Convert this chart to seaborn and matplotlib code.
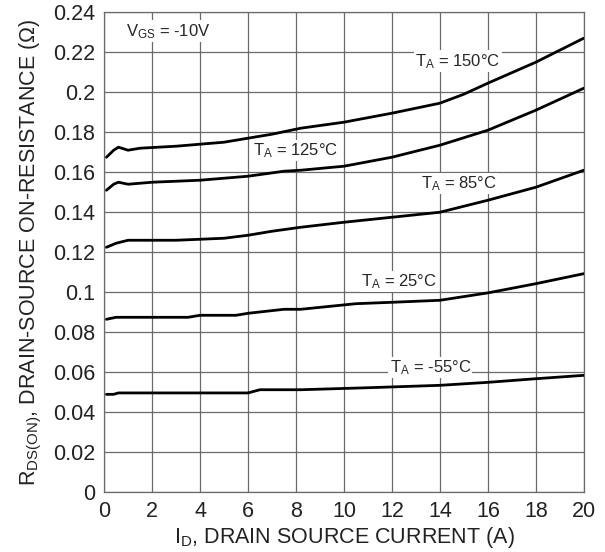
import matplotlib
matplotlib.use("Agg")
import matplotlib.pyplot as plt
import matplotlib.ticker as mticker
import seaborn as sns
import pandas as pd

# drain current (A) and on-resistance (ohm)
i_150 = [0.1, 0.4, 0.6, 1.0, 1.5, 3.0, 5.0, 7.0, 8.2, 10.0, 12.0, 14.0, 15.0, 16.0, 18.0, 20.0]
r_150 = [0.1675, 0.171, 0.1725, 0.171, 0.172, 0.173, 0.175, 0.179, 0.182, 0.185, 0.1895, 0.1945, 0.199, 0.2045, 0.215, 0.227]

i_125 = [0.1, 0.4, 0.6, 1.0, 2.0, 4.0, 6.0, 7.5, 8.2, 10.0, 12.0, 14.0, 16.0, 18.0, 20.0]
r_125 = [0.151, 0.154, 0.155, 0.154, 0.155, 0.156, 0.158, 0.1605, 0.161, 0.163, 0.1675, 0.1735, 0.181, 0.191, 0.202]

i_85 = [0.1, 0.5, 1.0, 3.0, 5.0, 6.0, 7.0, 8.2, 10.0, 12.0, 14.0, 16.0, 18.0, 20.0]
r_85 = [0.1225, 0.1245, 0.126, 0.126, 0.127, 0.1285, 0.1305, 0.1325, 0.135, 0.1375, 0.14, 0.146, 0.1525, 0.161]

i_25 = [0.1, 0.5, 3.5, 4.0, 5.5, 6.0, 7.5, 8.2, 10.5, 12.0, 14.0, 16.0, 18.0, 20.0]
r_25 = [0.0865, 0.0875, 0.0875, 0.0885, 0.0885, 0.0895, 0.0915, 0.0915, 0.0943, 0.095, 0.096, 0.0997, 0.1043, 0.1093]

i_m55 = [0.1, 0.4, 0.6, 6.0, 6.5, 8.2, 11.0, 14.0, 16.0, 18.0, 20.0]
r_m55 = [0.049, 0.049, 0.0497, 0.0497, 0.0513, 0.0513, 0.0523, 0.0535, 0.055, 0.0568, 0.0585]

temps = ["150", "125", "85", "25", "-55"]
label_text = [r"T$_A$ = 150°C", r"T$_A$ = 125°C", r"T$_A$ = 85°C", r"T$_A$ = 25°C", r"T$_A$ = -55°C"]
label_pos = [(14.75, 0.2155), (8.0, 0.171), (14.8, 0.1545), (12.3, 0.1055), (13.6, 0.0625)]

frames = []
for t, xs, ys in zip(temps, [i_150, i_125, i_85, i_25, i_m55],
                     [r_150, r_125, r_85, r_25, r_m55]):
    frames.append(pd.DataFrame({"current": xs, "rds": ys, "temp": t}))
df = pd.concat(frames, ignore_index=True)

sns.set_style("whitegrid")
plt.rcParams["font.family"] = ["Liberation Sans", "DejaVu Sans"]
plt.rcParams["mathtext.default"] = "regular"

fig, ax = plt.subplots(figsize=(6.05, 5.52), dpi=100)
fig.subplots_adjust(left=0.172, right=0.965, top=0.978, bottom=0.108)

sns.lineplot(data=df, x="current", y="rds", hue="temp", units="temp",
             estimator=None, sort=False, palette=["black"] * 5,
             linewidth=2.0, legend=False, ax=ax, zorder=3)

for txt, (x, y) in zip(label_text, label_pos):
    ax.text(x, y, txt, ha="center", va="center", fontsize=12, zorder=4,
            bbox=dict(facecolor="white", edgecolor="none", pad=1.0))
ax.text(0.9, 0.2305, r"V$_{GS}$ = -10V", ha="left", va="center", fontsize=12,
        zorder=4, bbox=dict(facecolor="white", edgecolor="none", pad=1.0))

ax.set_xlim(0, 20)
ax.set_ylim(0, 0.24)
ax.set_xticks(range(0, 21, 2))
ax.set_yticks([i * 0.02 for i in range(13)])
ax.yaxis.set_major_formatter(mticker.FuncFormatter(lambda v, p: f"{v:.2f}".rstrip("0").rstrip(".")))
ax.tick_params(labelsize=15.5, colors="#222222", pad=3)
ax.grid(True, color="#6a6a6a", linewidth=0.9)
for s in ax.spines.values():
    s.set_color("#6a6a6a")
    s.set_linewidth(0.9)

ax.set_xlabel(r"I$_D$, DRAIN SOURCE CURRENT (A)", fontsize=15.5, color="#222222", labelpad=2)
ax.set_ylabel(r"R$_{DS(ON)}$, DRAIN-SOURCE ON-RESISTANCE (Ω)", fontsize=15.5,
              color="#222222", labelpad=6)

fig.savefig("out.png", dpi=100)
